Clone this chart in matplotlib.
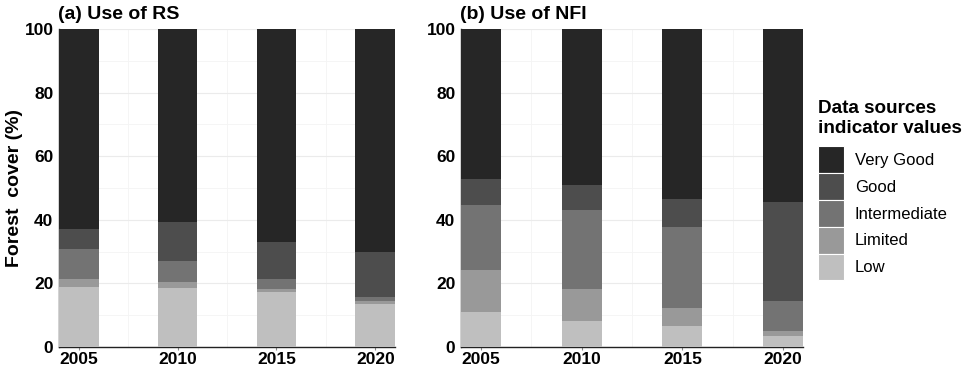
import matplotlib
matplotlib.use("Agg")
import matplotlib.pyplot as plt
from matplotlib.patches import Patch
import numpy as np

plt.rcParams['font.family'] = ['Liberation Sans', 'DejaVu Sans']

years = [2005, 2010, 2015, 2020]
categories = ["Very Good", "Good", "Intermediate", "Limited", "Low"]
colors = ["#262626", "#4d4d4d", "#737373", "#999999", "#bfbfbf"]

# Panel (a) Use of RS (percent of forest cover)
rs_low = [18.8, 18.6, 17.2, 13.6]
rs_limited = [2.6, 1.8, 1.1, 0.9]
rs_intermediate = [9.4, 6.6, 3.2, 1.3]
rs_good = [6.3, 12.2, 11.6, 14.0]
rs_verygood = [62.9, 60.8, 66.9, 70.2]

# Panel (b) Use of NFI
nfi_low = [10.9, 8.1, 6.7, 3.5]
nfi_limited = [13.2, 10.2, 5.5, 1.5]
nfi_intermediate = [20.6, 24.7, 25.4, 9.5]
nfi_good = [8.2, 7.9, 9.0, 31.0]
nfi_verygood = [47.1, 49.1, 53.4, 54.5]

fig = plt.figure(figsize=(9.72, 3.77), dpi=100)
ax1 = fig.add_axes([0.0607, 0.0796, 0.3457, 0.8435])
ax2 = fig.add_axes([0.4743, 0.0796, 0.3519, 0.8435])

def draw(ax, series, title):
    bottom = np.zeros(len(years))
    order = list(zip(series[::-1], colors[::-1]))  # Low first at bottom
    for vals, c in order:
        ax.bar(years, vals, width=2.0, bottom=bottom, color=c, zorder=3, linewidth=0)
        bottom = bottom + np.array(vals)
    ax.set_xlim(2004, 2021)
    ax.set_ylim(0, 100)
    ax.set_xticks(years)
    ax.set_xticks([2007.5, 2012.5, 2017.5], minor=True)
    ax.set_yticks([0, 20, 40, 60, 80, 100])
    ax.set_yticks([10, 30, 50, 70, 90], minor=True)
    ax.grid(True, which='major', color='#ebebeb', linewidth=0.8, zorder=0)
    ax.grid(True, which='minor', color='#f4f4f4', linewidth=0.6, zorder=0)
    for s in ['top', 'right']:
        ax.spines[s].set_visible(False)
    for s in ['left', 'bottom']:
        ax.spines[s].set_color('#222222')
        ax.spines[s].set_linewidth(1.0)
    ax.tick_params(axis='x', which='major', length=2.5, color='#888888', pad=1,
                   labelsize=12.5)
    ax.tick_params(axis='y', which='major', length=0, pad=4, labelsize=12.5)
    ax.tick_params(which='minor', length=0)
    for lab in ax.get_xticklabels() + ax.get_yticklabels():
        lab.set_fontweight('bold')
    ax.set_title(title, loc='left', fontsize=14, fontweight='bold', pad=7, x=-0.003)

draw(ax1, [rs_verygood, rs_good, rs_intermediate, rs_limited, rs_low], "(a) Use of RS")
draw(ax2, [nfi_verygood, nfi_good, nfi_intermediate, nfi_limited, nfi_low], "(b) Use of NFI")

ax1.set_ylabel("Forest  cover (%)", fontsize=14, fontweight='bold', labelpad=1)

handles = [Patch(facecolor=c, edgecolor='white', linewidth=0.8) for c in colors]
leg = fig.legend(handles, categories, loc='upper left', bbox_to_anchor=(0.8416, 0.735),
                 frameon=False, fontsize=12, title="Data sources\nindicator values",
                 handlelength=1.55, handleheight=2.1, handletextpad=0.65,
                 labelspacing=0.0, borderaxespad=0, borderpad=0)
leg.get_title().set_fontweight('bold')
leg.get_title().set_fontsize(13.6)
leg._legend_box.align = "left"
leg._legend_box.sep = 7

fig.savefig("out.png", dpi=100)
